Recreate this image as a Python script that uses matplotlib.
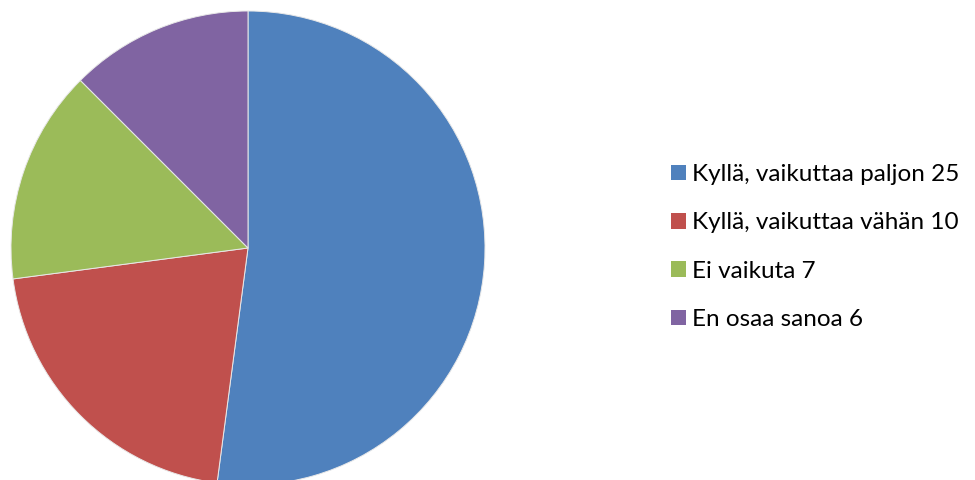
import matplotlib.pyplot as plt
from matplotlib.patches import Patch

# vastaukset ja niiden lukumäärät
vastaukset = ['Kyllä, vaikuttaa paljon', 'Kyllä, vaikuttaa vähän', 'Ei vaikuta', 'En osaa sanoa']
maarat = [25, 10, 7, 6]
varit = ['#4F81BD', '#C0504D', '#9BBB59', '#8064A2']

plt.rcParams['font.family'] = ['Lato', 'DejaVu Sans']

fig = plt.figure(figsize=(9.75, 4.8), dpi=100)
fig.patch.set_facecolor('white')

# piirakka vasemmalle
ax = fig.add_axes([11 / 975, -5 / 480, 474 / 975, 474 / 480])
ax.pie(maarat, colors=varit, startangle=90, counterclock=False, radius=1,
       wedgeprops={'edgecolor': '#e8e8e8', 'linewidth': 0.7})
ax.set_xlim(-1.0, 1.0)
ax.set_ylim(-1.0, 1.0)
ax.set_aspect('equal')
ax.axis('off')

# selite oikealle
kahvat = [Patch(facecolor=v, edgecolor='none') for v in varit]
tekstit = [f'{t} {m}' for t, m in zip(vastaukset, maarat)]
fig.legend(kahvat, tekstit, loc='center left', bbox_to_anchor=(671 / 975, 1 - 247 / 480),
           frameon=False, fontsize=17.5, handlelength=0.6, handleheight=0.6,
           handletextpad=0.25, labelspacing=1.12, borderaxespad=0, borderpad=0)

fig.savefig('out.png', dpi=100, facecolor='white')
